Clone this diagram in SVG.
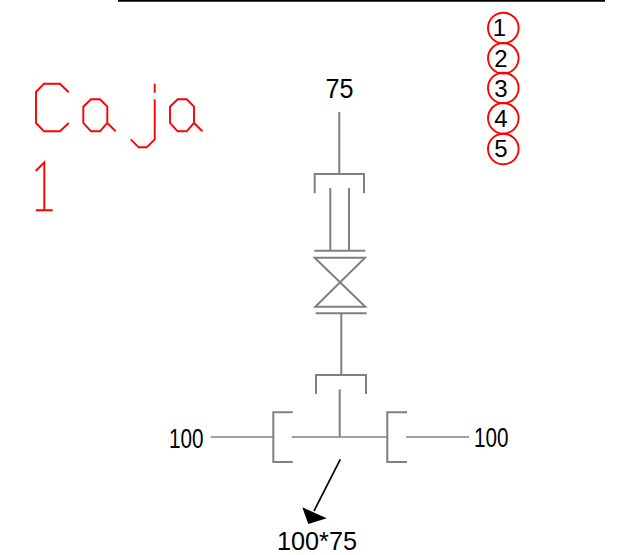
<svg xmlns="http://www.w3.org/2000/svg" width="624" height="555" viewBox="0 0 624 555">
<style>
.r{fill:none;stroke:#f00;stroke-width:1.9}
.g{fill:none;stroke:#808080;stroke-width:2}
.g2{fill:none;stroke:#808080;stroke-width:1.6}
.t{font-family:"Liberation Sans",Arial,sans-serif;fill:#000}
.big{font-size:27px}
.num{font-size:24px;text-anchor:middle}
</style>
<rect width="624" height="555" fill="#fff"/>
<g id="top-rule"><line x1="118" y1="0.7" x2="605" y2="0.7" stroke="#000" stroke-width="2.2"/></g>
<g id="title">
<path class="r" d="M68.7 92.3 60 83.7H44L36 92V123L44 131.3H60L68.7 123"/>
<path class="r" d="M91 99.3H100L107.3 106.7V123L100 131.3H91L83.3 123V106.7ZM107.3 123 115.7 131.3"/>
<path class="r" d="M154.7 83.7V92.7M154.7 99.3V139.3L146.7 147.3H138.7L130.7 139.3"/>
<path class="r" d="M177.7 99.3H186.7L194 106.7V123L186.7 131.3H177.7L170 123V106.7ZM194 123 202.4 131.3"/>
<path class="r" d="M35.7 171 44.3 162.3V210.3M35.7 210.3H52.7"/>
</g>
<g id="legend-1"><circle class="r" cx="503.3" cy="28" r="15.3"/><text class="t num" x="499.5" y="36.3">1</text></g>
<g id="legend-2"><circle class="r" cx="503.3" cy="58.3" r="15.3"/><text class="t num" x="501" y="66.7">2</text></g>
<g id="legend-3"><circle class="r" cx="503.3" cy="88" r="15.3"/><text class="t num" x="501" y="96.7">3</text></g>
<g id="legend-4"><circle class="r" cx="503.3" cy="118.3" r="15.3"/><text class="t num" x="501" y="126.7">4</text></g>
<g id="legend-5"><circle class="r" cx="503.3" cy="149" r="15.3"/><text class="t num" x="501" y="157.3">5</text></g>
<g id="connectors">
<path class="g" d="M339.3 112V174"/>
<path class="g" d="M341.3 313.5V375"/>
<path class="g" d="M339.7 389.3V437"/>
<path class="g2" d="M210.7 437H273.3"/>
<path class="g2" d="M291.7 437H387.3"/>
<path class="g2" d="M406 437H469"/>
<line x1="340.3" y1="459.3" x2="314" y2="511" stroke="#000" stroke-width="1.7"/>
<polygon points="308.3,524 302.3,507.3 326.7,518.3" fill="#000"/>
</g>
<g id="top-fitting">
<path class="g" d="M314.7 193.3V174H364V193.3"/>
<path class="g" d="M330.3 188V250.7M349 188V250.7"/>
</g>
<g id="valve">
<path class="g" d="M314.3 250.7H365.3"/>
<path class="g" d="M314.7 257.7H365L315.3 306.7H365.3Z"/>
<path class="g" d="M315.7 313.3H366.7"/>
</g>
<g id="tee-top"><path class="g" d="M316 394V375H366V394"/></g>
<g id="tee-left"><path class="g" d="M292.7 412.3H273.3V462H292.7"/></g>
<g id="tee-right"><path class="g" d="M407 412.3H387.3V462H407"/></g>
<g id="labels">
<text class="t big" x="325.5" y="98" textLength="28" lengthAdjust="spacingAndGlyphs">75</text>
<text class="t big" x="169" y="448" textLength="34.5" lengthAdjust="spacingAndGlyphs">100</text>
<text class="t big" x="474" y="447" textLength="34.5" lengthAdjust="spacingAndGlyphs">100</text>
<text class="t" font-size="25" x="277" y="549.5" textLength="80" lengthAdjust="spacingAndGlyphs">100*75</text>
</g>
</svg>
